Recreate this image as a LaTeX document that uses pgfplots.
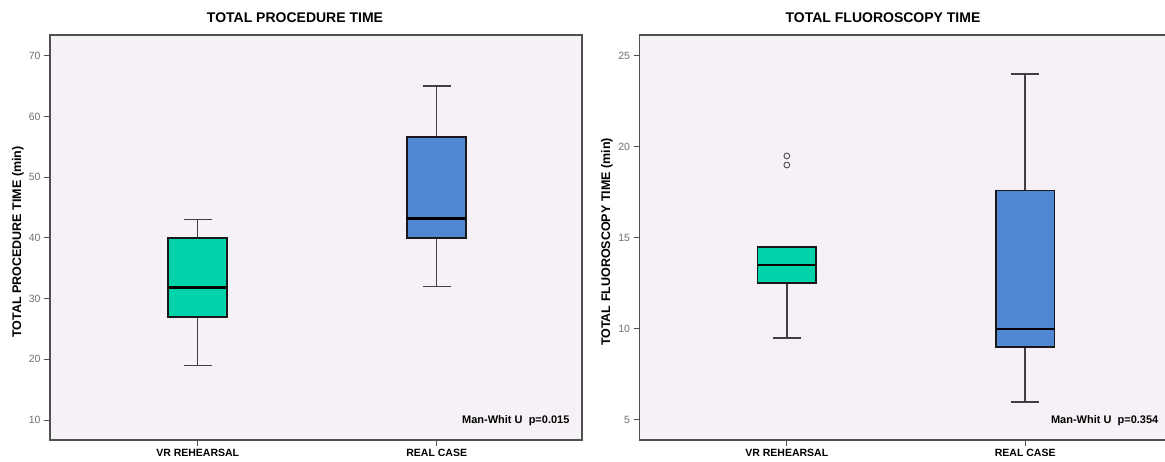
\documentclass[border=0pt]{standalone}
\usepackage{fontspec}
\setmainfont{Liberation Sans}
\usepackage{pgfplots}
\pgfplotsset{compat=1.18}
\usepgfplotslibrary{statistics}
\definecolor{bgcol}{HTML}{F6F1F6}
\definecolor{bordercol}{HTML}{505050}
\definecolor{tickcol}{HTML}{707070}
\definecolor{tealc}{HTML}{00D2AA}
\definecolor{bluec}{HTML}{4F87D3}
\pgfplotsset{
  panel/.style={
    scale only axis, height=405pt, anchor=south west,
    axis background/.style={fill=bgcol},
    axis line style={draw=bordercol, line width=1.2pt},
    tick pos=left, tick align=outside, major tick length=6pt,
    tick style={draw=bordercol, line width=1pt},
    xtick={1,2}, xticklabels={VR REHEARSAL, REAL CASE},
    xticklabel style={font=\fontsize{10.5}{12}\selectfont\bfseries, text=black},
    yticklabel style={font=\fontsize{10.5}{12}\selectfont, text=tickcol},
    /pgf/number format/assume math mode=true,
    boxplot/draw direction=y,
    boxplot/every box/.style={draw=black!90, line width=1.8pt},
    boxplot/every median/.style={draw=black, line width=2.4pt},
    boxplot/every whisker/.style={draw=black!75, line width=1.6pt},
  }
}
\begin{document}
\begin{tikzpicture}
\useasboundingbox (0pt,0pt) rectangle (1165pt,461pt);
\clip (0pt,0pt) rectangle (1165pt,461pt);
% Left panel
\begin{axis}[panel, width=532pt, at={(50pt,21pt)},
  xmin=0.382, xmax=2.608, ymin=6.71, ymax=73.41,
  ytick={10,20,...,70}]
\addplot[boxplot prepared={draw position=1, lower whisker=19, lower quartile=27,
  median=31.8, upper quartile=40, upper whisker=43, box extend=0.247, whisker extend=0.118},
  fill=tealc, draw=black] coordinates {};
\addplot[boxplot prepared={draw position=2, lower whisker=32, lower quartile=40,
  median=43.2, upper quartile=56.6, upper whisker=65, box extend=0.247, whisker extend=0.118},
  fill=bluec, draw=black] coordinates {};
\node[anchor=east, font=\fontsize{11}{12}\selectfont\bfseries] at (rel axis cs:0.983,0.049) {Man-Whit U\ \ p=0.015};
\end{axis}
% Right panel
\begin{axis}[panel, width=533pt, at={(639.5pt,21pt)},
  xmin=0.382, xmax=2.618, ymin=3.90, ymax=26.14,
  ytick={5,10,...,25}]
\addplot[boxplot prepared={draw position=1, lower whisker=9.5, lower quartile=12.5,
  median=13.5, upper quartile=14.5, upper whisker=14.5, box extend=0.246, whisker extend=0.118},
  fill=tealc, draw=black, mark=o, mark size=2.9pt, mark options={draw=black!70, line width=0.9pt, fill=none}]
  table[row sep=\\, y index=0] {19.5\\ 19.0\\};
\addplot[boxplot prepared={draw position=2, lower whisker=6, lower quartile=9,
  median=10, upper quartile=17.6, upper whisker=24, box extend=0.246, whisker extend=0.118},
  fill=bluec, draw=black] coordinates {};
\node[anchor=east, font=\fontsize{11}{12}\selectfont\bfseries] at (rel axis cs:0.980,0.048) {Man-Whit U\ \ p=0.354};
\end{axis}
% Titles and axis labels
\node[font=\fontsize{14}{16}\selectfont\bfseries] at (295pt,443.5pt) {TOTAL PROCEDURE TIME};
\node[font=\fontsize{14}{16}\selectfont\bfseries] at (883pt,443.5pt) {TOTAL FLUOROSCOPY TIME};
\node[rotate=90, font=\fontsize{12.5}{14}\selectfont\bfseries] at (18pt,219pt) {TOTAL PROCEDURE TIME (min)};
\node[rotate=90, font=\fontsize{12.5}{14}\selectfont\bfseries] at (607pt,219pt) {TOTAL FLUOROSCOPY TIME (min)};
\end{tikzpicture}
\end{document}
